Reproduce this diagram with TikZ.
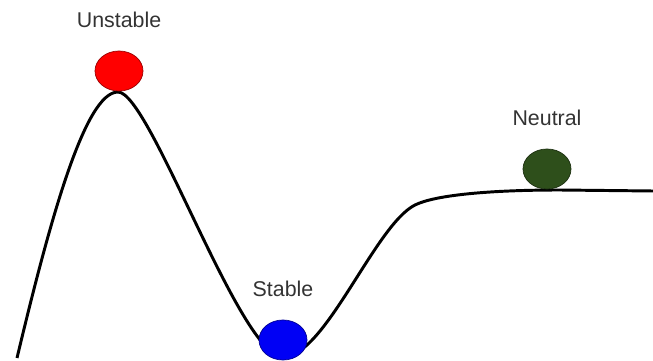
\documentclass[tikz,border=0pt]{standalone}
\usepackage{fontspec}
\setmainfont{Liberation Sans}
\usetikzlibrary{positioning, shapes.geometric}
\definecolor{ballred}{HTML}{FF0000}
\definecolor{ballblue}{HTML}{0000F5}
\definecolor{ballgreen}{HTML}{2E4F1B}
\definecolor{labelgray}{HTML}{333333}
\begin{document}
\begin{tikzpicture}[
        x=0.025cm, y=-0.025cm,
        every node/.style={align=center, outer sep=0pt},
        track/.style={line width=2.1pt, draw=black, line join=round},
        ball/.style={ellipse, inner sep=0pt, line width=0.5pt,
                     minimum width=1.2cm, minimum height=1cm},
        tag/.style={font=\fontsize{15.2}{18}\selectfont, text=labelgray,
                    inner sep=0pt}
    ]
        \useasboundingbox (0,0) rectangle (653,361);

        % --- landscape ---
        \draw[track] (17,358) .. controls (50,220) and (85,92) .. (118,92)
                     .. controls (150,92) and (240,357) .. (283,357)
                     .. controls (325,357) and (375,225) .. (415,205)
                     .. controls (435,195) and (490,190) .. (560,190)
                     -- (653,191);

        % --- balls ---
        \node[ball, fill=ballred, draw=ballred!60!black] (unstable) at (119,71) {};
        \node[ball, fill=ballblue, draw=ballblue!60!black] (stable) at (283,340) {};
        \node[ball, fill=ballgreen, draw=ballgreen!60!black] (neutral) at (547,169) {};

        % --- labels ---
        \node[tag, above=0.58cm of unstable] (tagU) {Unstable};
        \node[tag, above=0.58cm of stable] (tagS) {Stable};
        \node[tag, above=0.58cm of neutral] (tagN) {Neutral};
    \end{tikzpicture}
\end{document}
